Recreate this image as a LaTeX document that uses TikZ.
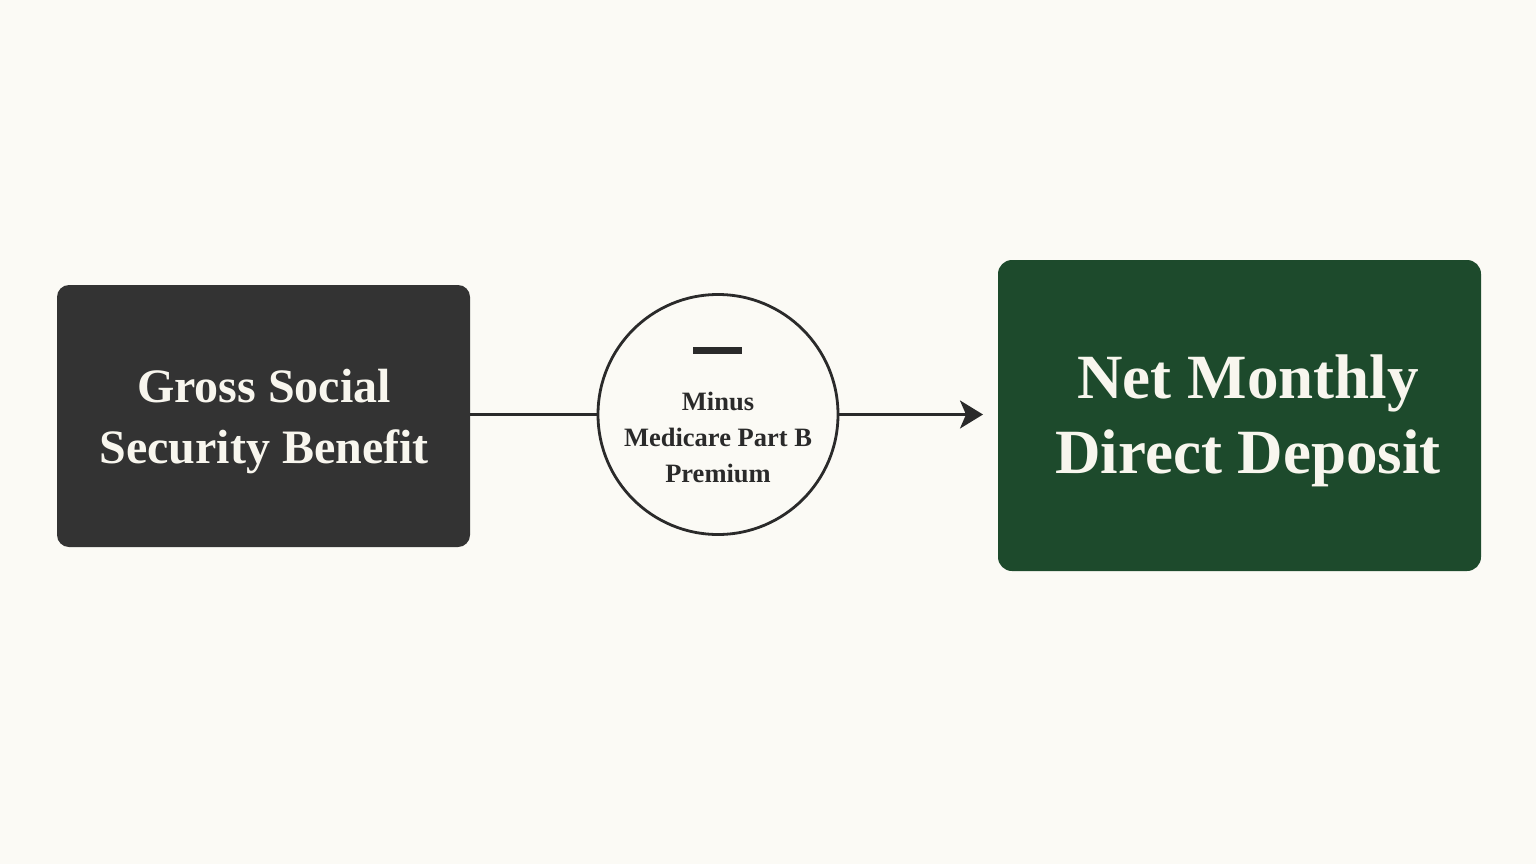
\documentclass[tikz,border=0pt]{standalone}
\usepackage{fontspec}
\setmainfont{Liberation Serif}
\usetikzlibrary{arrows.meta}
\definecolor{bg}{HTML}{FBFAF5}
\definecolor{darkbox}{HTML}{333333}
\definecolor{greenbox}{HTML}{1D4A2C}
\definecolor{ink}{HTML}{2A2A2A}
\definecolor{lighttext}{HTML}{F8F6EE}
\begin{document}
\begin{tikzpicture}[x=1pt,y=-1pt,
  boxstyle/.style={rounded corners=12pt, inner sep=0pt},
  labelstyle/.style={align=center, text=lighttext, inner sep=0pt},
  conn/.style={draw=ink, line width=2.6pt}]
\useasboundingbox[fill=bg] (0,0) rectangle (1536,864);
% boxes
\node[boxstyle, fill=darkbox, minimum width=413pt, minimum height=262pt] (gross) at (263.5,416) {};
\node[boxstyle, fill=greenbox, rounded corners=14pt, minimum width=483pt, minimum height=311pt] (net) at (1239.5,415.5) {};
\node[circle, draw=ink, line width=2.8pt, fill=bg, minimum size=240pt, inner sep=0pt] (circ) at (718,414.5) {};
% texts
\node[labelstyle, font={\fontsize{48}{61}\selectfont\bfseries}] (grosstext) at (264,421.5) {Gross Social\\Security Benefit};
\node[labelstyle, font={\fontsize{63}{75}\selectfont\bfseries}] (nettext) at (1248,421) {Net Monthly\\Direct Deposit};
\node[align=center, text=ink, inner sep=0pt, font={\fontsize{26.5}{36}\selectfont\bfseries}] (circtext) at (718,437) {Minus\\Medicare Part B\\Premium};
% minus bar
\coordinate (barl) at (693,350.5);
\coordinate (barr) at (742,350.5);
\draw[ink, line width=7pt] (barl) -- (barr);
% connectors
\coordinate (tipend) at (983,414.5);
\draw[conn] (gross.east |- circ.west) -- (circ.west);
\draw[conn, -{Stealth[length=23pt, width=28pt, inset=6pt]}] (circ.east) -- (tipend);
\end{tikzpicture}
\end{document}
